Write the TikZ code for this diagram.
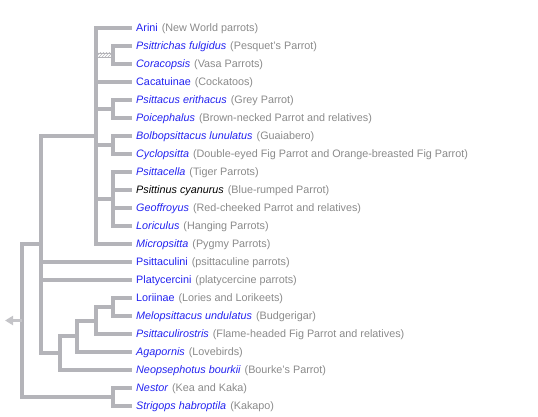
\documentclass[tikz,border=0pt]{standalone}
\usepackage{fontspec}
\setmainfont{Liberation Sans}
\usetikzlibrary{arrows.meta,patterns}
\definecolor{branchgray}{RGB}{180,180,185}
\definecolor{rootgray}{RGB}{196,196,200}
\definecolor{taxonblue}{RGB}{34,34,240}
\definecolor{commongray}{RGB}{138,138,138}
\newcommand{\grp}[1]{\textcolor{taxonblue}{#1}}
\newcommand{\gen}[1]{\textcolor{taxonblue}{\itshape #1}}
\newcommand{\vern}[1]{\hspace{4pt}\textcolor{commongray}{#1}}
\tikzset{
  branch/.style={draw=branchgray,line width=4pt},
  leaf/.style={anchor=west,inner xsep=4pt,inner ysep=0pt,text height=7.6pt,text depth=0pt,font=\fontsize{10.8}{13}\selectfont},
}
\begin{document}
\begin{tikzpicture}[x=1pt,y=-1pt]
        \useasboundingbox (0,0) rectangle (538,417);
        % taxa
        \node[leaf] (arini) at (132,28) {\grp{Arini}\vern{(New World parrots)}};
        \node[leaf] (psittrichas) at (132,46) {\gen{Psittrichas fulgidus}\vern{(Pesquet's Parrot)}};
        \node[leaf] (coracopsis) at (132,64) {\gen{Coracopsis}\vern{(Vasa Parrots)}};
        \node[leaf] (cacatuinae) at (132,82) {\grp{Cacatuinae}\vern{(Cockatoos)}};
        \node[leaf] (psittacus) at (132,100) {\gen{Psittacus erithacus}\vern{(Grey Parrot)}};
        \node[leaf] (poicephalus) at (132,118) {\gen{Poicephalus}\vern{(Brown-necked Parrot and relatives)}};
        \node[leaf] (bolbopsittacus) at (132,136) {\gen{Bolbopsittacus lunulatus}\vern{(Guaiabero)}};
        \node[leaf] (cyclopsitta) at (132,154) {\gen{Cyclopsitta}\vern{(Double-eyed Fig Parrot and Orange-breasted Fig Parrot)}};
        \node[leaf] (psittacella) at (132,172) {\gen{Psittacella}\vern{(Tiger Parrots)}};
        \node[leaf] (psittinus) at (132,190) {\textit{Psittinus cyanurus}\vern{(Blue-rumped Parrot)}};
        \node[leaf] (geoffroyus) at (132,208) {\gen{Geoffroyus}\vern{(Red-cheeked Parrot and relatives)}};
        \node[leaf] (loriculus) at (132,226) {\gen{Loriculus}\vern{(Hanging Parrots)}};
        \node[leaf] (micropsitta) at (132,244) {\gen{Micropsitta}\vern{(Pygmy Parrots)}};
        \node[leaf] (psittaculini) at (132,262) {\grp{Psittaculini}\vern{(psittaculine parrots)}};
        \node[leaf] (platycercini) at (132,280) {\grp{Platycercini}\vern{(platycercine parrots)}};
        \node[leaf] (loriinae) at (132,298) {\grp{Loriinae}\vern{(Lories and Lorikeets)}};
        \node[leaf] (melopsittacus) at (132,316) {\gen{Melopsittacus undulatus}\vern{(Budgerigar)}};
        \node[leaf] (psittaculirostris) at (132,334) {\gen{Psittaculirostris}\vern{(Flame-headed Fig Parrot and relatives)}};
        \node[leaf] (agapornis) at (132,352) {\gen{Agapornis}\vern{(Lovebirds)}};
        \node[leaf] (neopsephotus) at (132,370) {\gen{Neopsephotus bourkii}\vern{(Bourke's Parrot)}};
        \node[leaf] (nestor) at (132,388) {\gen{Nestor}\vern{(Kea and Kaka)}};
        \node[leaf] (strigops) at (132,406) {\gen{Strigops habroptila}\vern{(Kakapo)}};
        % clades
        \coordinate (pesquet) at (113,55);
        \coordinate (africa) at (113,109);
        \coordinate (figparrot) at (113,145);
        \coordinate (psittacella-cl) at (113,199);
        \coordinate (core) at (96,136);
        \coordinate (lory) at (113,307);
        \coordinate (psittaculi) at (96,320.5);
        \coordinate (lovebird) at (77,336);
        \coordinate (bourke) at (60,353);
        \coordinate (psittacoidea) at (41,244);
        \coordinate (strigopoidea) at (113,397);
        \coordinate (root) at (22,320.5);
        % branches
        \foreach \a/\b in {pesquet/psittrichas, pesquet/coracopsis, africa/psittacus, africa/poicephalus,
            figparrot/bolbopsittacus, figparrot/cyclopsitta, psittacella-cl/psittacella, psittacella-cl/psittinus,
            psittacella-cl/geoffroyus, psittacella-cl/loriculus, core/arini, core/cacatuinae, core/africa,
            core/figparrot, core/psittacella-cl, core/micropsitta, lory/loriinae, lory/melopsittacus,
            psittaculi/lory, psittaculi/psittaculirostris, lovebird/psittaculi, lovebird/agapornis,
            bourke/lovebird, bourke/neopsephotus, psittacoidea/core, psittacoidea/psittaculini,
            psittacoidea/platycercini, psittacoidea/bourke, strigopoidea/nestor, strigopoidea/strigops,
            root/psittacoidea, root/strigopoidea}
            \draw[branch] (\a) |- (\b);
        % uncertain placement
        \draw[draw=branchgray,line width=0.8pt,pattern=north east lines,pattern color=branchgray]
            (97,53) rectangle (112,57);
        % root stub
        \draw[rootgray,line width=3pt,-{Triangle[length=8pt,width=9pt]}] (root) -- ++(-17,0);
\end{tikzpicture}
\end{document}
